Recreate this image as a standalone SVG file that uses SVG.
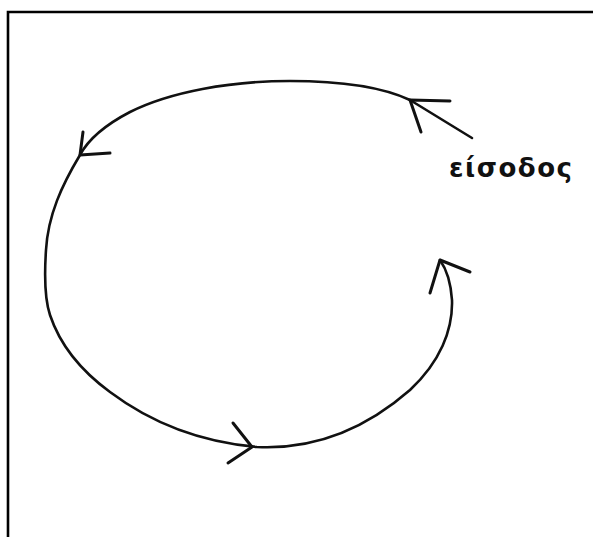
<svg xmlns="http://www.w3.org/2000/svg" width="593" height="537" viewBox="0 0 593 537">
<style>
.frame{fill:none;stroke:#000;stroke-width:2.6}
.curve{fill:none;stroke:#111;stroke-width:2.6;stroke-linecap:round;stroke-linejoin:round}
.head{fill:none;stroke:#111;stroke-width:3;stroke-linecap:round;stroke-linejoin:round}
.label{font-family:"DejaVu Sans",sans-serif;font-size:26px;font-weight:bold;fill:#111}
</style>
<rect width="593" height="537" fill="#fff"/>
<path class="frame" d="M8,537 V12 H593"/>
<g id="connectors">
<path class="curve" d="M410,100 C380,86 340,81 290,81 C230,81 170,92 130,112 C105,125 88,140 80,155 C62,185 48,215 46,250 C44,280 45,300 50,315 C60,345 80,370 110,392 C150,422 200,442 257,447 C320,450 370,425 410,390 C440,362 453,330 452,300 C451,285 447,270 440,260"/>
<path class="curve" d="M410,100 L472,138"/>
<path class="head" d="M450,101 L410,100 L421,132"/>
<path class="head" d="M83,132 L80,155 L110,153"/>
<path class="head" d="M233,423 L252,447 L228,463"/>
<path class="head" d="M430,293 L440,260 L470,272"/>
</g>
<g id="entry">
<text class="label" x="449" y="177" textLength="123" lengthAdjust="spacing">είσοδος</text>
</g>
</svg>
